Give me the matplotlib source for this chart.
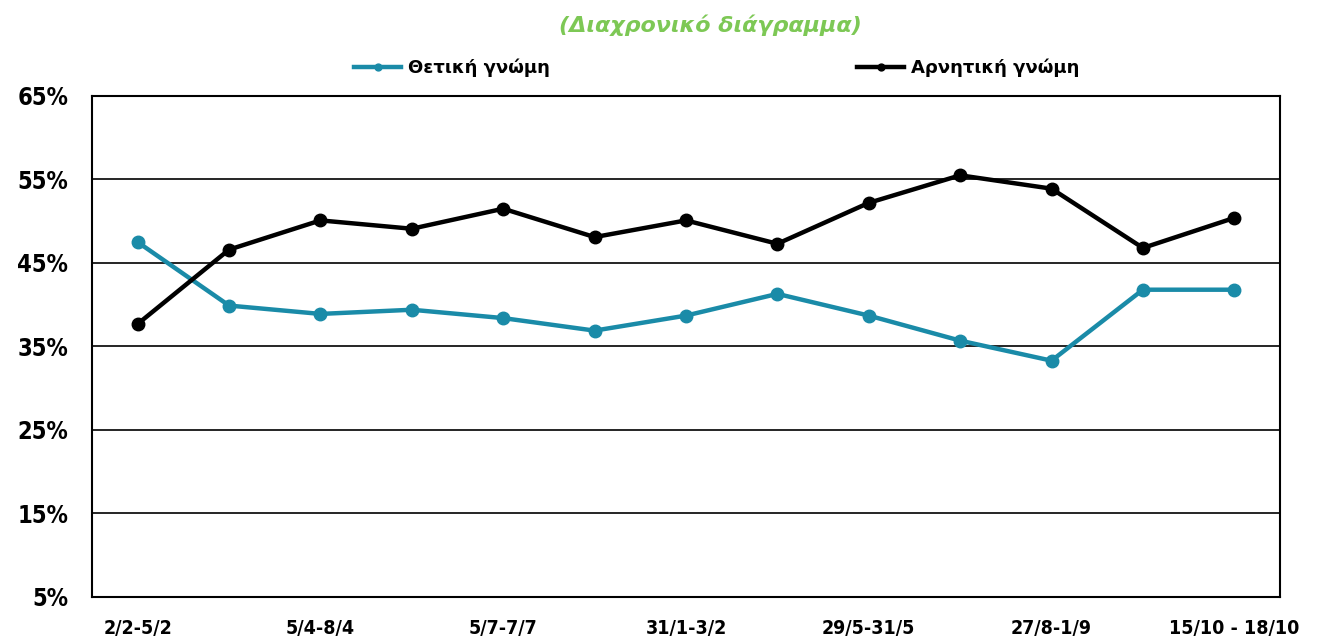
import matplotlib
matplotlib.use("Agg")
import matplotlib.pyplot as plt
import numpy as np

plt.rcParams['font.family'] = ['DejaVu Sans']
plt.rcParams['font.stretch'] = 'condensed'

# 13 survey waves, only every other label is printed on the axis
shown_labels = ["2/2-5/2", "5/4-8/4", "5/7-7/7", "31/1-3/2",
                "29/5-31/5", "27/8-1/9", "15/10 - 18/10"]
positive = [47.5, 39.9, 38.9, 39.4, 38.4, 36.9, 38.7, 41.3, 38.7, 35.7, 33.3, 41.8, 41.8]
negative = [37.7, 46.6, 50.1, 49.1, 51.5, 48.1, 50.1, 47.3, 52.2, 55.5, 53.9, 46.8, 50.4]
yticks = [5, 15, 25, 35, 45, 55, 65]

blue = '#1a8ba8'
green = '#7dc855'

x = np.arange(len(positive))

fig = plt.figure(figsize=(13.35, 6.42), dpi=100)
ax = fig.add_axes([0.0689, 0.0701, 0.8899, 0.7804])

ax.plot(x, positive, color=blue, lw=3.2, marker='o', ms=9, label='Θετική γνώμη')
ax.plot(x, negative, color='black', lw=3.2, marker='o', ms=9, label='Αρνητική γνώμη')

ax.set_xlim(-0.5, len(x) - 0.5)
ax.set_ylim(5, 65)
ax.set_yticks(yticks)
ax.set_yticklabels([f"{v}%" for v in yticks], fontsize=17, fontweight='bold')
ax.set_xticks(x[::2])
ax.set_xticklabels(shown_labels, fontsize=14, fontweight='bold')
ax.tick_params(axis='y', length=0, pad=17)
ax.tick_params(axis='x', length=0, pad=16)

ax.grid(axis='y', color='black', lw=1.2)
ax.set_axisbelow(True)
for s in ax.spines.values():
    s.set_linewidth(1.5)

fig.text(0.532, 0.961, '(Διαχρονικό διάγραμμα)', color=green, fontsize=16,
         fontweight='bold', style='italic', ha='center', va='center',
         stretch='normal')

fig.legend(loc='center', bbox_to_anchor=(0.537, 0.894), ncol=2, frameon=False,
           prop={'size': 13, 'weight': 'bold', 'stretch': 'normal'},
           columnspacing=17, handlelength=2.6, handletextpad=0.4, markerscale=0.55)

fig.savefig('out.png', dpi=100)
